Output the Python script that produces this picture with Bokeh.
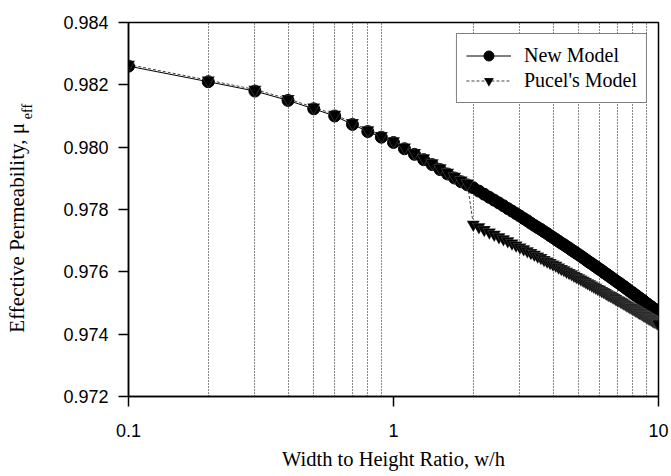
from bokeh.plotting import figure
from bokeh.models import FixedTicker, Range1d, Legend, LinearAxis
from bokeh.embed import file_html
from bokeh.resources import INLINE

# ---- data ----
ratio = [0.1, 0.2, 0.3, 0.4, 0.5, 0.6, 0.7, 0.8, 0.9, 1.0,
         1.1, 1.2, 1.3, 1.4, 1.5, 1.6, 1.7, 1.8, 1.9, 2.0,
         2.1, 2.2, 2.3, 2.4, 2.5, 2.6, 2.7, 2.8, 2.9, 3.0,
         3.1, 3.2, 3.3, 3.4, 3.5, 3.6, 3.7, 3.8, 3.9, 4.0,
         4.1, 4.2, 4.3, 4.4, 4.5, 4.6, 4.7, 4.8, 4.9, 5.0,
         5.1, 5.2, 5.3, 5.4, 5.5, 5.6, 5.7, 5.8, 5.9, 6.0,
         6.1, 6.2, 6.3, 6.4, 6.5, 6.6, 6.7, 6.8, 6.9, 7.0,
         7.1, 7.2, 7.3, 7.4, 7.5, 7.6, 7.7, 7.8, 7.9, 8.0,
         8.1, 8.2, 8.3, 8.4, 8.5, 8.6, 8.7, 8.8, 8.9, 9.0,
         9.1, 9.2, 9.3, 9.4, 9.5, 9.6, 9.7, 9.8, 9.9, 10.0]

new_model = [0.98260, 0.98210, 0.98180, 0.98150, 0.98123, 0.98100, 0.98073, 0.98050, 0.98032, 0.98015,
             0.97995, 0.97977, 0.97960, 0.97944, 0.97928, 0.97914, 0.97901, 0.97889, 0.97879, 0.97870,
             0.97859, 0.97849, 0.97839, 0.97830, 0.97821, 0.97812, 0.97803, 0.97795, 0.97787, 0.97779,
             0.97771, 0.97764, 0.97756, 0.97749, 0.97742, 0.97736, 0.97729, 0.97723, 0.97716, 0.97710,
             0.97704, 0.97698, 0.97692, 0.97687, 0.97681, 0.97676, 0.97670, 0.97665, 0.97660, 0.97655,
             0.97650, 0.97645, 0.97640, 0.97635, 0.97630, 0.97626, 0.97621, 0.97617, 0.97612, 0.97608,
             0.97604, 0.97599, 0.97595, 0.97591, 0.97587, 0.97583, 0.97579, 0.97575, 0.97571, 0.97567,
             0.97564, 0.97560, 0.97556, 0.97553, 0.97549, 0.97545, 0.97542, 0.97538, 0.97535, 0.97532,
             0.97528, 0.97525, 0.97522, 0.97518, 0.97515, 0.97512, 0.97509, 0.97506, 0.97502, 0.97499,
             0.97496, 0.97493, 0.97490, 0.97487, 0.97484, 0.97481, 0.97479, 0.97476, 0.97473, 0.97470]

pucel_model = [0.98265, 0.98215, 0.98185, 0.98155, 0.98128, 0.98105, 0.98078, 0.98055, 0.98037, 0.98020,
               0.98000, 0.97982, 0.97965, 0.97949, 0.97933, 0.97919, 0.97906, 0.97894, 0.97884, 0.97752,
               0.97744, 0.97735, 0.97727, 0.97720, 0.97712, 0.97705, 0.97699, 0.97692, 0.97685, 0.97679,
               0.97673, 0.97667, 0.97661, 0.97656, 0.97650, 0.97645, 0.97639, 0.97634, 0.97629, 0.97624,
               0.97620, 0.97615, 0.97610, 0.97606, 0.97601, 0.97597, 0.97593, 0.97588, 0.97584, 0.97580,
               0.97576, 0.97572, 0.97568, 0.97564, 0.97561, 0.97557, 0.97553, 0.97550, 0.97546, 0.97543,
               0.97539, 0.97536, 0.97533, 0.97529, 0.97526, 0.97523, 0.97520, 0.97517, 0.97514, 0.97510,
               0.97508, 0.97505, 0.97502, 0.97499, 0.97496, 0.97493, 0.97490, 0.97487, 0.97485, 0.97482,
               0.97479, 0.97477, 0.97474, 0.97471, 0.97469, 0.97466, 0.97464, 0.97461, 0.97459, 0.97456,
               0.97454, 0.97451, 0.97449, 0.97447, 0.97444, 0.97442, 0.97440, 0.97438, 0.97435, 0.97433]

series_names = ["New Model", "Pucel's Model"]
x_ticks = [0.1, 1, 10]
x_tick_labels = ["0.1", "1", "10"]
x_minor_ticks = [0.2, 0.3, 0.4, 0.5, 0.6, 0.7, 0.8, 0.9, 2, 3, 4, 5, 6, 7, 8, 9]
y_ticks = [0.972, 0.974, 0.976, 0.978, 0.980, 0.982, 0.984]
y_tick_labels = ["0.972", "0.974", "0.976", "0.978", "0.980", "0.982", "0.984"]
x_title = "Width to Height Ratio, w/h"
y_title = "Effective Permeability, \u03bc"
y_title_sub = "eff"

NBSP = "\u00a0"

# ---- figure ----
W, H = 670, 475
p = figure(width=W, height=H, x_axis_type="log",
           x_range=Range1d(0.1, 10), y_range=Range1d(0.972, 0.984),
           output_backend="svg", toolbar_location=None,
           min_border_left=128, min_border_right=12,
           min_border_top=22, min_border_bottom=79)
p.title.visible = False
p.background_fill_color = "white"
p.border_fill_color = "white"
p.outline_line_color = "black"
p.outline_line_width = 1.5

p.xaxis.ticker = FixedTicker(ticks=x_ticks, minor_ticks=x_minor_ticks)
p.xaxis.major_label_overrides = dict(zip(x_ticks, x_tick_labels))
p.yaxis.ticker = FixedTicker(ticks=y_ticks)
p.yaxis.major_label_overrides = dict(zip(y_ticks, y_tick_labels))

for ax in (p.xaxis[0], p.yaxis[0]):
    ax.axis_line_color = "black"
    ax.axis_line_width = 1.5
    ax.major_tick_line_color = "black"
    ax.major_tick_line_width = 1.5
    ax.major_tick_out = 10
    ax.major_tick_in = 0
    ax.minor_tick_line_color = None
    ax.major_label_text_font = "Liberation Sans"
    ax.major_label_text_font_size = "18px"
    ax.major_label_text_color = "black"

p.xaxis.major_label_standoff = 17
p.yaxis.major_label_standoff = 10
p.xaxis.axis_label = x_title
p.xaxis.axis_label_text_font = "Liberation Serif"
p.xaxis.axis_label_text_font_size = "20.5px"
p.xaxis.axis_label_text_font_style = "normal"
p.xaxis.axis_label_text_color = "black"
p.xaxis.axis_label_standoff = 8

# subscript "eff" sits on the tick-label axis, shifted toward the top
p.yaxis.axis_label = NBSP * 56 + y_title_sub
p.yaxis.axis_label_text_font = "Liberation Serif"
p.yaxis.axis_label_text_font_size = "14px"
p.yaxis.axis_label_text_font_style = "normal"
p.yaxis.axis_label_text_color = "black"
p.yaxis.axis_label_standoff = 25

# main y title on an outer, otherwise empty axis
title_axis = LinearAxis(ticker=FixedTicker(ticks=[]), axis_line_color=None,
                        major_tick_line_color=None, minor_tick_line_color=None,
                        axis_label=y_title + NBSP * 7,
                        axis_label_text_font="Liberation Serif",
                        axis_label_text_font_size="21px",
                        axis_label_text_font_style="normal",
                        axis_label_text_color="black",
                        axis_label_standoff=-11)
p.add_layout(title_axis, "left")

p.xgrid.grid_line_color = None
p.xgrid.minor_grid_line_color = "#111111"
p.xgrid.minor_grid_line_dash = "1 2"
p.xgrid.minor_grid_line_width = 1
p.ygrid.grid_line_color = None

# ---- series ----
l1 = p.line(ratio, new_model, line_color="black", line_width=1)
l2 = p.line(ratio, pucel_model, line_color="#444444", line_width=1, line_dash="3 2")
s1 = p.scatter(ratio, new_model, marker="circle", size=12,
               fill_color="black", line_color="black")
s2 = p.scatter(ratio, pucel_model, marker="inverted_triangle", size=13,
               fill_color="black", line_color="white", line_alpha=0.35, line_width=0.5)

legend = Legend(items=[(series_names[0], [l1, s1]), (series_names[1], [l2, s2])],
                location="top_right", margin=11, padding=9, spacing=0,
                glyph_width=45, glyph_height=25, label_height=23, label_standoff=13,
                label_text_font="Liberation Serif", label_text_font_size="20px",
                label_text_color="black",
                border_line_color="black", border_line_width=1.2,
                background_fill_color="white", background_fill_alpha=1)
p.add_layout(legend)

open("out.html", "w").write(file_html(p, INLINE))
